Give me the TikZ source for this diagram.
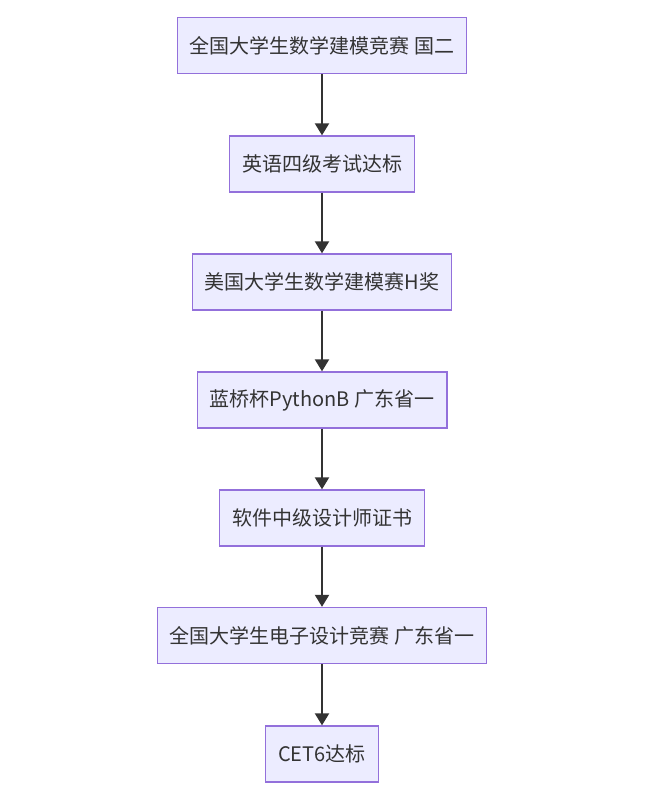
\documentclass[tikz,border=0pt]{standalone}
\usepackage{fontspec}
\setmainfont{Noto Sans CJK SC}
\usetikzlibrary{arrows.meta}
\definecolor{boxfill}{HTML}{ECECFF}
\definecolor{boxline}{HTML}{9370DB}
\definecolor{linkcol}{HTML}{333333}
\definecolor{txt}{HTML}{333333}
\begin{document}
\begin{tikzpicture}[x=1pt,y=-1pt,
  stagebox/.style={draw=boxline, fill=boxfill, line width=1.3pt,
    minimum height=56pt, inner xsep=12.5pt, inner ysep=0pt,
    text=txt, font=\fontsize{20}{22}\selectfont},
  flow/.style={draw=linkcol, line width=2pt,
    -{Triangle[length=12pt,width=14pt]}, shorten >=0pt}]
\useasboundingbox (0,0) rectangle (652,804);
\fill[white] (0,0) rectangle (652,804);
\node[stagebox] (n1) at (322,45.5)  {全国大学生数学建模竞赛 国二};
\node[stagebox] (n2) at (322,164)   {英语四级考试达标};
\node[stagebox] (n3) at (322,282)   {美国大学生数学建模赛H奖};
\node[stagebox] (n4) at (322,400)   {蓝桥杯PythonB 广东省一};
\node[stagebox] (n5) at (322,518)   {软件中级设计师证书};
\node[stagebox] (n6) at (322,635.5) {全国大学生电子设计竞赛 广东省一};
\node[stagebox] (n7) at (322,754)   {CET6达标};
\foreach \a/\b in {n1/n2,n2/n3,n3/n4,n4/n5,n5/n6,n6/n7}
  \draw[flow] (\a) -- (\b);
\end{tikzpicture}
\end{document}
